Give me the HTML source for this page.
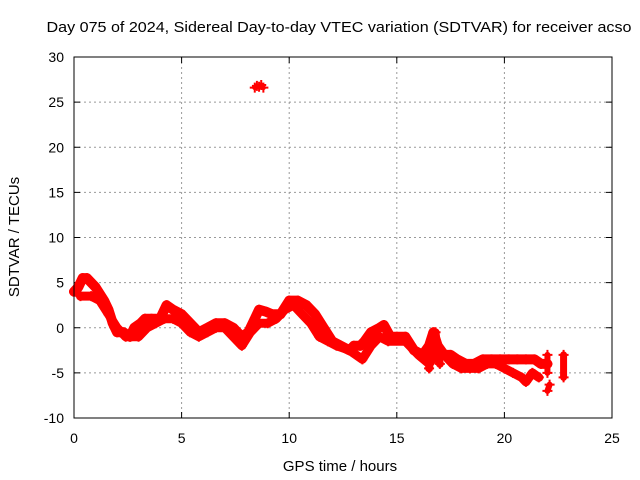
<!DOCTYPE html>
<html><head><meta charset="utf-8"><style>
body{margin:0;background:#fff;}
svg{display:block;font-family:"Liberation Sans",sans-serif;}
</style></head><body>
<svg id="chart" width="640" height="480">
<text x="339" y="32" text-anchor="middle" font-size="15" textLength="585" lengthAdjust="spacingAndGlyphs">Day 075 of 2024, Sidereal Day-to-day VTEC variation (SDTVAR) for receiver acso</text>
<text x="340" y="471" text-anchor="middle" font-size="15">GPS time / hours</text>
<text transform="translate(19,237) rotate(-90)" text-anchor="middle" font-size="15">SDTVAR / TECUs</text>
<g id="grid"></g><g id="ticks"></g><g id="marks"></g>
<rect x="74" y="57" width="538" height="361" fill="none" stroke="#000" stroke-width="1"/>
</svg>
<script>
const xTicks=[0,5,10,15,20,25];
const yTicks=[-10,-5,0,5,10,15,20,25,30];
const traceAT=[0.0,0.2,0.4,0.6,0.8,1.0,1.4,1.6,1.8,2.0,2.3,2.6,2.8,3.1,3.3,3.6,4.0,4.3,4.6,5.0,5.4,5.8,6.2,6.6,7.0,7.4,7.8,8.1,8.4,8.6,8.9,9.2,9.6,10.0,10.4,10.8,11.2,11.6,12.0,12.4,12.8,13.0,13.3,13.5,13.8,14.2,14.4,14.7,15.0,15.4,15.8,16.2,16.5,16.7,16.9,17.2,17.5,17.8,18.2,18.6,19.0,19.4,19.8,20.2,20.6,21.0,21.4,21.7,22.0];
const traceAV=[4.0,4.5,5.5,5.5,5.0,4.5,3.0,2.0,0.5,-0.5,-0.5,-1.0,0.0,0.5,1.0,1.0,1.0,2.5,2.0,1.5,0.5,-0.5,0.0,0.5,0.5,0.0,-1.0,-0.5,1.0,2.0,1.8,1.5,1.5,3.0,3.0,2.5,1.5,0.0,-1.5,-2.0,-2.5,-2.0,-2.0,-1.5,-0.5,0.0,0.3,-1.0,-1.0,-1.0,-2.5,-3.0,-2.0,-0.5,-2.0,-3.0,-3.0,-3.5,-4.0,-4.0,-3.5,-3.5,-3.5,-3.5,-3.5,-3.5,-3.5,-4.0,-4.0];
const traceBT=[0.3,0.8,1.2,1.6,2.0,2.4,3.0,3.4,3.8,4.2,4.6,5.0,5.4,5.8,6.2,6.6,7.0,7.4,7.8,8.2,8.6,9.0,9.4,9.8,10.2,10.6,11.0,11.4,11.8,12.2,12.8,13.4,13.8,14.2,14.6,15.4,16.0,16.5,16.8,17.2,17.6,18.0,18.4,18.8,19.2,19.6,20.0,20.4,20.8,21.0,21.3,21.6];
const traceBV=[3.5,3.5,3.0,1.5,0.0,-1.0,-1.0,0.0,0.5,1.0,1.0,0.5,-0.5,-1.0,-0.5,0.0,0.0,-1.0,-2.0,-0.5,0.5,0.5,1.0,2.0,2.5,1.5,0.5,-1.0,-1.5,-2.0,-2.5,-3.5,-2.0,-1.0,-1.5,-1.5,-3.0,-4.0,-3.0,-3.0,-4.0,-4.5,-4.5,-4.5,-4.0,-4.0,-4.5,-5.0,-5.5,-6.0,-5.0,-5.5];
const traceCT=[16.5,16.6,16.8,16.9,17.0];
const traceCV=[-4.5,-2.0,-0.5,-3.0,-4.0];
const outlierT=[8.4,8.5,8.6,8.7,8.8];
const outlierV=[26.6,26.8,26.7,26.9,26.6];
const tail1T=[22.0,22.1];
const tail1V=[-7.0,-6.3];
const tail2T=[22.0,22.0];
const tail2V=[-5.0,-3.0];
const tail3T=[22.75,22.75];
const tail3V=[-5.5,-3.0];
const X0=74,X1=612,Y0=418,Y1=57;
const xs=v=>X0+(v-0)/25*(X1-X0);
const ys=v=>Y0-(v+10)/40*(Y0-Y1);
const NS="http://www.w3.org/2000/svg";
const grid=document.getElementById('grid'),ticks=document.getElementById('ticks'),marks=document.getElementById('marks');
function mk(tag,attrs,parent){const e=document.createElementNS(NS,tag);for(const k in attrs)e.setAttribute(k,attrs[k]);parent.appendChild(e);return e;}
xTicks.forEach(t=>{const x=xs(t);
 if(t>0&&t<25){const g=mk('line',{x1:x,x2:x,y1:Y1,y2:Y0,stroke:'#999','stroke-dasharray':'2,3'},grid);
 
 }
 mk('line',{x1:x,x2:x,y1:Y0,y2:Y0-6,stroke:'#000'},ticks);mk('line',{x1:x,x2:x,y1:Y1,y2:Y1+6,stroke:'#000'},ticks);
 const l=mk('text',{x:x,y:443,'text-anchor':'middle','font-size':14},ticks);l.textContent=t;
 
 });
yTicks.forEach(t=>{const y=ys(t);
 if(t>-10&&t<30){const g=mk('line',{x1:X0,x2:X1,y1:y,y2:y,stroke:'#999','stroke-dasharray':'2,3'},grid);
 
 }
 mk('line',{x1:X0,x2:X0+6,y1:y,y2:y,stroke:'#000'},ticks);mk('line',{x1:X1,x2:X1-6,y1:y,y2:y,stroke:'#000'},ticks);
 const l=mk('text',{x:64,y:y+5,'text-anchor':'end','font-size':14},ticks);l.textContent=t;
 
 });
function band(T,V,name,w){
 const pts=T.map((t,i)=>xs(t)+','+ys(V[i])).join(' ');
 const p=mk('polyline',{points:pts,fill:'none',stroke:'#f00','stroke-width':w,'stroke-linejoin':'round','stroke-linecap':'round'},marks);
 
 
 points(T,V,name+'-point');}
function points(T,V,name){
 T.forEach((t,i)=>{const x=xs(t),y=ys(V[i]);
 const p=mk('path',{d:`M${x-5},${y}h10M${x},${y-5}v10`,stroke:'#f00','stroke-width':2},marks);
 
 });}
band(traceAT,traceAV,'sdtvar-trace-upper',10);
band(traceBT,traceBV,'sdtvar-trace-lower',9);
band(traceCT,traceCV,'sdtvar-trace-spike',8);
band(outlierT,outlierV,'sdtvar-outlier',5);
band(tail1T,tail1V,'sdtvar-tail-low',6);
band(tail2T,tail2V,'sdtvar-tail-mid',6);
band(tail3T,tail3V,'sdtvar-tail-end',7);
</script>
</body></html>
